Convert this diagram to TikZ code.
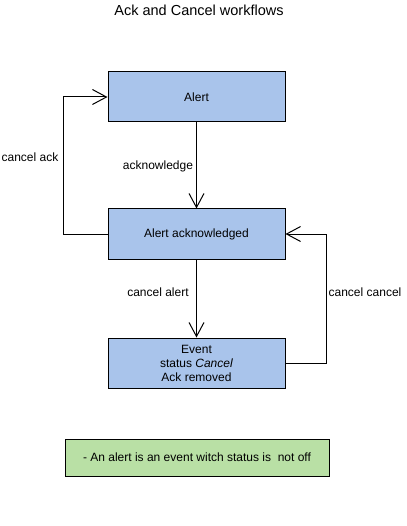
\documentclass[tikz,border=0pt]{standalone}
\usepackage{fontspec}
\setmainfont{Liberation Sans}
\usetikzlibrary{arrows.meta}
\definecolor{boxblue}{RGB}{169,196,235}
\definecolor{notegreen}{RGB}{185,224,165}
\tikzset{
  statebox/.style={draw=black, line width=1pt, fill=boxblue, minimum width=177pt, minimum height=50pt, inner sep=0pt, font=\fontsize{12}{14}\selectfont, align=center},
  notebox/.style={draw=black, line width=1pt, fill=notegreen, minimum width=264pt, minimum height=37pt, inner sep=0pt, font=\fontsize{12}{14}\selectfont},
  arr/.style={draw=black, line width=1pt, -{Straight Barb[length=14pt,width=15pt,line width=1pt]}},
  lbl/.style={font=\fontsize{12}{14}\selectfont, inner sep=0pt},
}
\begin{document}
\begin{tikzpicture}[x=1pt,y=-1pt]
\useasboundingbox (0,0) rectangle (406,526);
\node[font=\fontsize{14.5}{17}\selectfont, inner sep=0pt] (title) at (199,10) {Ack and Cancel workflows};
\node[statebox] (alert) at (196.5,97) {Alert};
\node[statebox] (ack) at (196.5,234) {Alert acknowledged};
\node[statebox] (event) at (196.5,363) {Event\\status \textit{Cancel}\\Ack removed};
\node[notebox] (note) at (197,457.5) {- An alert is an event witch status is\ \ not off};
\draw[arr] (alert.south) -- (ack.north);
\node[lbl] (lack) at (158,166) {acknowledge};
\draw[arr] (ack.south) -- (event.north);
\node[lbl] (lcalert) at (158,292) {cancel alert};
\coordinate (lc) at (63,234);
\draw[arr] (ack.west) -- (lc) |- (alert.west);
\node[lbl] (lcack) at (30,157) {cancel ack};
\coordinate (rc) at (326,363);
\draw[arr] (event.east) -- (rc) |- (ack.east);
\node[lbl] (lccancel) at (365,292) {cancel cancel};
\end{tikzpicture}
\end{document}
